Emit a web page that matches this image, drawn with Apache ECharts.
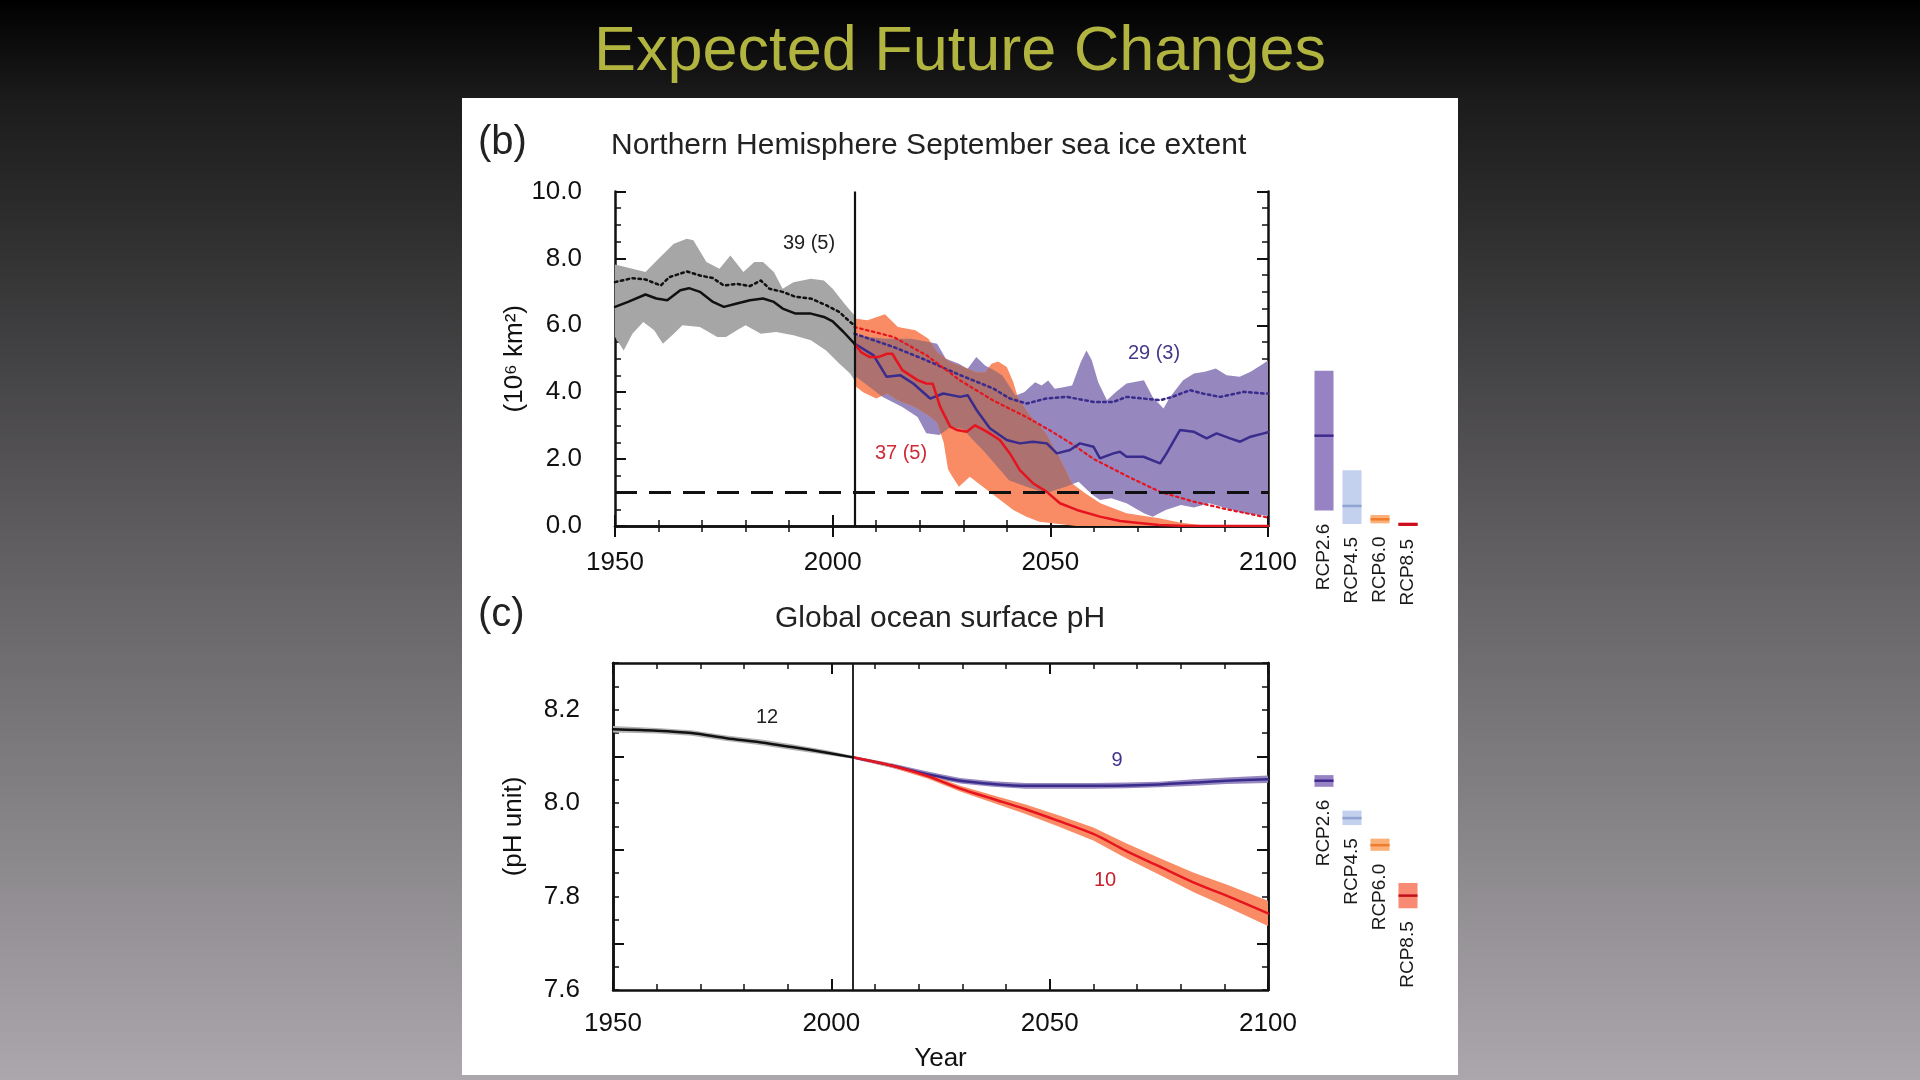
<!DOCTYPE html>
<html>
<head>
<meta charset="utf-8">
<script src="https://cdn.jsdelivr.net/npm/echarts@6.0.0/dist/echarts.min.js"></script>
<style>
html,body{margin:0;padding:0;width:1920px;height:1080px;overflow:hidden;background:#000;}
#chart{width:1920px;height:1080px;}
</style>
</head>
<body>
<div id="chart"></div>
<script>
// ---------------- DATA ----------------
const histEndYear = 2005;
const iceFreeLevel = 1.0;
const xTickLabels = [1950, 2000, 2050, 2100];
const phTickLabels = [7.6, 7.8, 8.0, 8.2];
const phLongTicks = [7.7, 7.9, 8.1];

// Panel (b): NH September sea ice extent (10^6 km^2)
const iceHistMean = [[1950,6.55],[1953,6.70],[1957,6.92],[1959.5,6.80],[1962,6.75],[1965,7.05],[1967,7.11],[1969.5,7.0],[1972.5,6.70],[1975,6.55],[1978,6.65],[1981,6.75],[1984,6.80],[1986.5,6.70],[1988.5,6.50],[1991.5,6.35],[1995,6.35],[1998,6.25],[2000,6.12],[2002.5,5.80],[2005,5.45]];
const iceHistSubset = [[1950,7.29],[1954,7.41],[1957,7.37],[1960.5,7.19],[1962.5,7.44],[1966.5,7.61],[1969.5,7.49],[1972.5,7.41],[1975,7.19],[1978,7.24],[1981,7.17],[1983.5,7.34],[1985.5,7.09],[1988.5,7.0],[1991.5,6.85],[1995,6.80],[1998.5,6.60],[2001.5,6.40],[2004,6.10],[2005,6.0]];
const iceHistUpper = [[1950,7.82],[1954,7.69],[1957,7.59],[1960,7.99],[1963.5,8.44],[1966.5,8.59],[1968,8.54],[1971,7.89],[1974,7.69],[1976.5,8.09],[1979.5,7.59],[1982,7.89],[1984,7.89],[1986.5,7.59],[1988.5,7.09],[1991,7.29],[1995,7.39],[1998,7.34],[2000,7.09],[2003,6.60],[2005,6.30]];
const iceHistLower = [[1950,5.65],[1952,5.25],[1954,5.75],[1956.5,6.10],[1959,5.85],[1961,5.45],[1963.5,5.75],[1965.5,6.0],[1969.5,5.95],[1973.5,5.65],[1975.5,5.65],[1978,5.85],[1980,6.0],[1983.5,5.75],[1987,5.80],[1991,5.70],[1995,5.55],[1998.5,5.25],[2001.5,4.86],[2004,4.56],[2005,4.36]];

const ice26Upper = [[2005,5.7],[2012,5.6],[2018,5.6],[2022,5.5],[2024,5.45],[2026,5.0],[2029,4.85],[2031,4.7],[2033,5.05],[2035,4.8],[2037,4.66],[2039,4.5],[2042,3.9],[2044,4.0],[2046.5,4.3],[2048,4.2],[2049.5,4.35],[2051,4.1],[2053,4.15],[2055,4.2],[2057,4.9],[2058.3,5.25],[2059.5,4.96],[2061,4.3],[2063,3.76],[2065,4.0],[2067.5,4.26],[2071.5,4.36],[2073.5,3.86],[2076,3.51],[2077.5,3.86],[2080.5,4.36],[2083,4.56],[2085.5,4.61],[2088,4.71],[2090.5,4.51],[2093.5,4.46],[2096,4.61],[2099,4.86],[2100,4.95]];
const ice26Lower = [[2005,4.5],[2009,4.1],[2011.5,3.86],[2016,3.56],[2019.5,3.26],[2021.5,2.77],[2024.5,2.72],[2027,2.95],[2030,2.9],[2032,2.6],[2034.5,2.27],[2037,1.9],[2040.5,1.37],[2044.5,1.17],[2049,0.98],[2053.5,1.17],[2056.5,1.32],[2059.5,0.95],[2061.4,0.78],[2064,0.83],[2067.5,0.68],[2071.5,0.38],[2073.5,0.28],[2076.5,0.48],[2080,0.63],[2083,0.55],[2086.5,0.68],[2090.5,0.53],[2094.5,0.38],[2098,0.33],[2100,0.3]];
const ice85Upper = [[2005,6.2],[2008,6.15],[2012,6.33],[2015,5.95],[2019,5.85],[2022,5.6],[2024,5.2],[2027,4.9],[2030,4.75],[2033,4.6],[2035,4.6],[2036.5,4.85],[2038,4.92],[2040,4.75],[2041.5,4.3],[2042.5,3.86],[2045,3.36],[2049,2.77],[2052,2.07],[2055,1.27],[2058,0.98],[2061.5,0.68],[2067.5,0.38],[2075,0.23],[2080,0.1],[2085,0.02],[2100,0]];
const ice85Lower = [[2005,4.2],[2007,4.0],[2010,3.81],[2012.5,3.96],[2015,3.75],[2019,3.55],[2022,3.3],[2024,3.1],[2025.5,2.5],[2026.5,1.7],[2027.5,1.47],[2029,1.17],[2031.5,1.47],[2034.5,1.17],[2038.5,0.78],[2041.5,0.48],[2044.5,0.28],[2047.5,0.13],[2052,0.06],[2056,0],[2100,0]];

const ice26Mean = [[2005,5.45],[2006.3,5.35],[2009.4,5.1],[2012.4,4.46],[2015.5,4.51],[2018.5,4.26],[2022.4,3.81],[2025.4,3.96],[2029.3,3.86],[2031,3.91],[2033.1,3.46],[2036.1,2.92],[2040,2.57],[2043,2.47],[2046,2.52],[2049.2,2.47],[2051.5,2.17],[2054.5,2.27],[2056.8,2.47],[2059.9,2.37],[2061.4,2.02],[2064.5,2.17],[2066,2.22],[2067.5,2.07],[2071.4,2.07],[2075.2,1.87],[2076.7,2.17],[2079.8,2.87],[2082.9,2.82],[2085.9,2.62],[2088.2,2.77],[2091.3,2.62],[2093.6,2.52],[2096,2.67],[2099,2.77],[2100,2.8]];
const ice26Subset = [[2005,5.75],[2014,5.35],[2021.6,4.95],[2029.3,4.51],[2036.9,4.11],[2040.7,3.81],[2044.6,3.66],[2049,3.81],[2053.8,3.86],[2059.9,3.71],[2064.5,3.71],[2067.5,3.86],[2071.4,3.81],[2075.2,3.76],[2078,3.86],[2082.1,4.06],[2085,3.96],[2089,3.86],[2094.4,4.01],[2099,3.96],[2100,3.96]];
const ice85Mean = [[2005,5.45],[2006.5,5.2],[2008.5,5.05],[2010.5,5.05],[2012.5,5.15],[2013.7,5.15],[2016,4.66],[2019.5,4.36],[2021.5,4.26],[2023,4.25],[2024.7,3.56],[2027,2.97],[2028.5,2.87],[2030.8,2.82],[2032.7,3.01],[2035.4,2.82],[2038.4,2.57],[2040.7,2.17],[2043,1.67],[2046.1,1.27],[2049.2,1.02],[2052.2,0.68],[2056.1,0.48],[2061.4,0.28],[2066,0.15],[2069.8,0.1],[2075,0.03],[2080,0.01],[2100,0]];
const ice85Subset = [[2005,5.95],[2014,5.65],[2021.6,5.1],[2029.3,4.35],[2036.9,3.75],[2044.6,3.25],[2050,2.85],[2055,2.45],[2060,2.0],[2067.5,1.5],[2075.2,1.02],[2082.9,0.73],[2090.5,0.5],[2100,0.25]];

// Panel (c): global ocean surface pH
const phHistMean = [[1950,8.158],[1960,8.155],[1968,8.150],[1976,8.139],[1984,8.130],[1991,8.120],[1999,8.108],[2005,8.098]];
const phHistBand = [[1950,8.151,8.165],[1960,8.149,8.161],[1968,8.144,8.156],[1976,8.133,8.145],[1984,8.124,8.136],[1991,8.114,8.126],[1999,8.103,8.113],[2005,8.095,8.101]];
const ph85Mean = [[2005,8.098],[2014,8.080],[2022,8.058],[2029.5,8.031],[2037,8.009],[2044.5,7.987],[2052,7.962],[2060,7.934],[2067.5,7.898],[2075,7.865],[2083,7.830],[2090.5,7.802],[2100,7.764]];
const ph85Band = [[2005,8.095,8.101],[2014,8.076,8.084],[2022,8.053,8.063],[2029.5,8.025,8.037],[2037,8.001,8.017],[2044.5,7.977,7.997],[2052,7.950,7.974],[2060,7.920,7.948],[2067.5,7.882,7.914],[2075,7.847,7.883],[2083,7.809,7.851],[2090.5,7.778,7.826],[2100,7.737,7.791]];
const ph26Mean = [[2005,8.098],[2014,8.080],[2020,8.066],[2024,8.058],[2029.5,8.048],[2037,8.041],[2044.5,8.037],[2052,8.037],[2060,8.037],[2067.5,8.038],[2075,8.040],[2083,8.044],[2090.5,8.048],[2100,8.051]];
const ph26Band = [[2005,8.095,8.101],[2014,8.075,8.085],[2020,8.060,8.072],[2024,8.052,8.064],[2029.5,8.042,8.054],[2037,8.035,8.047],[2044.5,8.031,8.043],[2052,8.031,8.043],[2060,8.031,8.043],[2067.5,8.032,8.044],[2075,8.034,8.046],[2083,8.037,8.051],[2090.5,8.041,8.055],[2100,8.043,8.059]];

// Side bars: 2081-2100 ranges per scenario
const rcpNames = ['RCP2.6', 'RCP4.5', 'RCP6.0', 'RCP8.5'];
const iceSideLow  = [0.46, 0.06, 0.08, 0.0];
const iceSideHigh = [4.64, 1.67, 0.33, 0.1];
const iceSideMid  = [2.7, 0.6, 0.2, 0.05];
const phSideLow  = [8.035, 7.953, 7.898, 7.775];
const phSideHigh = [8.060, 7.984, 7.924, 7.829];
const phSideMid  = [8.048, 7.968, 7.910, 7.802];

// ---------------- STYLE ----------------
const FONT = '"Liberation Sans", Arial, Helvetica, sans-serif';
const C_PURPLE_BAND = '#9687be';
const C_SALMON_BAND = '#f98c64';
const C_OVERLAP = '#ad7170';
const C_GRAY_BAND = '#a6a6a6';
const C_PURPLE_LINE = '#3a2c8c';
const C_RED_LINE = '#e5141f';
const C_BLACK = '#111111';
const sideBoxTop = ['#9783c3', '#c3d0ee', '#fab078', '#e8141f'];
const sideBoxPh = ['#9783c3', '#c3d0ee', '#fab078', '#f98a74'];
const sideLine = ['#3f2a8c', '#8fa3d4', '#ef7d2c', '#c40f1c'];

function toPts(api, arr) { return arr.map(p => api.coord([p[0], p[1]])); }
function bandFromEdges(name, upper, lower, color, xi, yi, z, clipUpper, clipLower) {
  return {
    type: 'custom', name: name, xAxisIndex: xi, yAxisIndex: yi, z: z, silent: true, clip: true,
    animation: false,
    data: [[upper[0][0], upper[0][1]]],
    renderItem: function (params, api) {
      const pts = toPts(api, upper).concat(toPts(api, lower.slice().reverse()));
      const el = { type: 'polygon', shape: { points: pts }, style: { fill: color } };
      if (clipUpper) {
        const cp = toPts(api, clipUpper).concat(toPts(api, clipLower.slice().reverse()));
        el.clipPath = { type: 'polygon', shape: { points: cp } };
      }
      return el;
    }
  };
}
function bandFromTriples(name, triples, color, xi, yi, z) {
  const up = triples.map(t => [t[0], t[2]]);
  const lo = triples.map(t => [t[0], t[1]]);
  return bandFromEdges(name, up, lo, color, xi, yi, z);
}
function lineSeries(name, data, color, width, dotted, xi, yi, z, extra) {
  const s = {
    type: 'line', name: name, data: data, xAxisIndex: xi, yAxisIndex: yi, z: z,
    showSymbol: false, symbol: 'none', silent: true, animation: false, clip: true,
    lineStyle: { color: color, width: width, type: dotted ? [2.5, 3.5] : 'solid', cap: 'round' }
  };
  return Object.assign(s, extra || {});
}
function sideSeries(name, low, high, mid, boxColors, xi, yi) {
  return {
    type: 'custom', name: name, xAxisIndex: xi, yAxisIndex: yi, clip: false, silent: true, animation: false, z: 3,
    data: rcpNames.map((n, i) => [i, low[i], high[i], mid[i]]),
    renderItem: function (params, api) {
      const i = api.value(0);
      const pTop = api.coord([i + 0.5, api.value(2)]);
      const pBot = api.coord([i + 0.5, api.value(1)]);
      const pMid = api.coord([i + 0.5, api.value(3)]);
      const w = api.size([0.68, 0])[0];
      const h = Math.max(pBot[1] - pTop[1], 3);
      return {
        type: 'group',
        children: [
          { type: 'rect', shape: { x: pTop[0] - w / 2, y: pBot[1] - h, width: w, height: h }, style: { fill: boxColors[i] } },
          { type: 'line', shape: { x1: pTop[0] - w / 2, y1: pMid[1], x2: pTop[0] + w / 2, y2: pMid[1] }, style: { stroke: sideLine[i], lineWidth: 2.5 } },
          { type: 'text', x: pTop[0], y: pBot[1] + 13, rotation: Math.PI / 2,
            style: { text: rcpNames[i], fontSize: 19, fontFamily: FONT, fill: '#1a1a1a', align: 'right', verticalAlign: 'middle' } }
        ]
      };
    }
  };
}

const axisLineStyle = { show: true, lineStyle: { color: C_BLACK, width: 2.5 } };
const labelStyle = { fontFamily: FONT, fontSize: 26, color: C_BLACK };

function xAxes(gridIndex, margin, withName) {
  const base = {
    type: 'value', gridIndex: gridIndex, min: 1950, max: 2100, interval: 50,
    axisLine: axisLineStyle, splitLine: { show: false },
    axisTick: { show: true, inside: true, length: 11, lineStyle: { color: C_BLACK, width: 2 } },
    minorTick: { show: true, splitNumber: 5, length: 6, lineStyle: { color: C_BLACK, width: 1.5 } }
  };
  const bottom = Object.assign({}, base, {
    position: 'bottom',
    axisLabel: Object.assign({ show: true, margin: margin, customValues: xTickLabels, formatter: v => String(Math.round(v)) }, labelStyle)
  });
  if (withName) {
    Object.assign(bottom, { name: 'Year', nameLocation: 'middle', nameGap: 56,
      nameTextStyle: { fontFamily: FONT, fontSize: 26, color: C_BLACK } });
  }
  const top = Object.assign({}, base, { position: 'top', axisLabel: { show: false } });
  return [bottom, top];
}

const option = {
  backgroundColor: new echarts.graphic.LinearGradient(0, 0, 0, 1, [
    { offset: 0, color: '#000000' },
    { offset: 0.09, color: '#1b1b1b' },
    { offset: 0.5, color: '#5f5d60' },
    { offset: 1, color: '#aba7ac' }
  ]),
  animation: false,
  grid: [
    { left: 615, top: 191.5, width: 653, height: 334.5 },
    { left: 613, top: 663, width: 655, height: 327 },
    { left: 1310, top: 191.5, width: 112, height: 334.5 },
    { left: 1310, top: 663, width: 112, height: 327 }
  ],
  xAxis: [].concat(
    xAxes(0, 24, false),
    xAxes(1, 21, true),
    [
      { type: 'value', gridIndex: 2, min: 0, max: 4, show: false },
      { type: 'value', gridIndex: 3, min: 0, max: 4, show: false }
    ]
  ),
  yAxis: [
    // top panel left (labels)
    { type: 'value', gridIndex: 0, position: 'left', min: 0, max: 10, interval: 2,
      name: '(10\u2076 km\u00b2)', nameLocation: 'middle', nameGap: 86,
      nameTextStyle: { fontFamily: FONT, fontSize: 26, color: C_BLACK },
      axisLine: axisLineStyle, splitLine: { show: false },
      axisTick: { show: true, inside: true, length: 11, lineStyle: { color: C_BLACK, width: 2 } },
      minorTick: { show: true, splitNumber: 4, length: 6, lineStyle: { color: C_BLACK, width: 1.5 } },
      axisLabel: Object.assign({ margin: 33, formatter: v => v.toFixed(1) }, labelStyle) },
    // top panel right (mirror)
    { type: 'value', gridIndex: 0, position: 'right', min: 0, max: 10, interval: 2,
      axisLine: axisLineStyle, splitLine: { show: false },
      axisTick: { show: true, inside: true, length: 11, lineStyle: { color: C_BLACK, width: 2 } },
      minorTick: { show: true, splitNumber: 4, length: 6, lineStyle: { color: C_BLACK, width: 1.5 } },
      axisLabel: { show: false } },
    // bottom panel left: fine ticks
    { type: 'value', gridIndex: 1, position: 'left', min: 7.6, max: 8.3, interval: 0.05,
      axisLine: axisLineStyle, splitLine: { show: false },
      axisTick: { show: true, inside: true, length: 6, lineStyle: { color: C_BLACK, width: 1.5 } },
      axisLabel: { show: false } },
    // bottom panel left: labels + long ticks
    { type: 'value', gridIndex: 1, position: 'left', min: 7.6, max: 8.3, interval: 0.1,
      name: '(pH unit)', nameLocation: 'middle', nameGap: 86,
      nameTextStyle: { fontFamily: FONT, fontSize: 26, color: C_BLACK },
      axisLine: axisLineStyle, splitLine: { show: false },
      axisTick: { show: true, inside: true, length: 11, customValues: phLongTicks, lineStyle: { color: C_BLACK, width: 2 } },
      axisLabel: Object.assign({ margin: 33, customValues: phTickLabels, formatter: v => v.toFixed(1) }, labelStyle) },
    // bottom panel right: fine ticks
    { type: 'value', gridIndex: 1, position: 'right', min: 7.6, max: 8.3, interval: 0.05,
      axisLine: axisLineStyle, splitLine: { show: false },
      axisTick: { show: true, inside: true, length: 6, lineStyle: { color: C_BLACK, width: 1.5 } },
      axisLabel: { show: false } },
    // bottom panel right: long ticks
    { type: 'value', gridIndex: 1, position: 'right', min: 7.6, max: 8.3, interval: 0.1,
      axisLine: axisLineStyle, splitLine: { show: false },
      axisTick: { show: true, inside: true, length: 11, customValues: phLongTicks, lineStyle: { color: C_BLACK, width: 2 } },
      axisLabel: { show: false } },
    { type: 'value', gridIndex: 2, min: 0, max: 10, show: false },
    { type: 'value', gridIndex: 3, min: 7.6, max: 8.3, show: false }
  ],
  graphic: [
    { type: 'rect', z: -10, shape: { x: 462, y: 98, width: 996, height: 977 }, style: { fill: '#ffffff' } },
    { type: 'text', x: 960, y: 53, style: { text: 'Expected Future Changes', fontSize: 63, fontFamily: FONT, fill: '#b2b440', align: 'center', verticalAlign: 'middle', textAlign: 'center', textVerticalAlign: 'middle' } },
    { type: 'text', x: 478, y: 143, style: { text: '(b)', fontSize: 40, fontFamily: FONT, fill: '#222', align: 'left', verticalAlign: 'middle', textAlign: 'left', textVerticalAlign: 'middle' } },
    { type: 'text', x: 611, y: 145.5, style: { text: 'Northern Hemisphere September sea ice extent', fontSize: 30, fontFamily: FONT, fill: '#222', align: 'left', verticalAlign: 'middle', textAlign: 'left', textVerticalAlign: 'middle' } },
    { type: 'text', x: 478, y: 615, style: { text: '(c)', fontSize: 40, fontFamily: FONT, fill: '#222', align: 'left', verticalAlign: 'middle', textAlign: 'left', textVerticalAlign: 'middle' } },
    { type: 'text', x: 775, y: 619, style: { text: 'Global ocean surface pH', fontSize: 30, fontFamily: FONT, fill: '#222', align: 'left', verticalAlign: 'middle', textAlign: 'left', textVerticalAlign: 'middle' } },
    { type: 'text', x: 809, y: 243, z: 10, style: { text: '39 (5)', fontSize: 20, fontFamily: FONT, fill: '#222', align: 'center', verticalAlign: 'middle', textAlign: 'center', textVerticalAlign: 'middle' } },
    { type: 'text', x: 1154, y: 353, z: 10, style: { text: '29 (3)', fontSize: 20, fontFamily: FONT, fill: '#46398a', align: 'center', verticalAlign: 'middle', textAlign: 'center', textVerticalAlign: 'middle' } },
    { type: 'text', x: 901, y: 453, z: 10, style: { text: '37 (5)', fontSize: 20, fontFamily: FONT, fill: '#d02a36', align: 'center', verticalAlign: 'middle', textAlign: 'center', textVerticalAlign: 'middle' } },
    { type: 'text', x: 767, y: 717, z: 10, style: { text: '12', fontSize: 20, fontFamily: FONT, fill: '#222', align: 'center', verticalAlign: 'middle', textAlign: 'center', textVerticalAlign: 'middle' } },
    { type: 'text', x: 1117, y: 760, z: 10, style: { text: '9', fontSize: 20, fontFamily: FONT, fill: '#3f3590', align: 'center', verticalAlign: 'middle', textAlign: 'center', textVerticalAlign: 'middle' } },
    { type: 'text', x: 1105, y: 880, z: 10, style: { text: '10', fontSize: 20, fontFamily: FONT, fill: '#c8202c', align: 'center', verticalAlign: 'middle', textAlign: 'center', textVerticalAlign: 'middle' } }
  ],
  series: [
    // ---- panel (b) bands
    bandFromEdges('hist band', iceHistUpper, iceHistLower, C_GRAY_BAND, 0, 0, 1),
    bandFromEdges('RCP2.6 band', ice26Upper, ice26Lower, C_PURPLE_BAND, 0, 0, 1),
    bandFromEdges('RCP8.5 band', ice85Upper, ice85Lower, C_SALMON_BAND, 0, 0, 1),
    bandFromEdges('overlap', ice85Upper, ice85Lower, C_OVERLAP, 0, 0, 1, ice26Upper, ice26Lower),
    // ---- panel (b) lines
    lineSeries('hist subset', iceHistSubset, C_BLACK, 2.5, true, 0, 0, 3),
    lineSeries('RCP2.6 subset', ice26Subset, C_PURPLE_LINE, 2.5, true, 0, 0, 3),
    lineSeries('RCP8.5 subset', ice85Subset, C_RED_LINE, 2.2, true, 0, 0, 3),
    lineSeries('RCP2.6 mean', ice26Mean, C_PURPLE_LINE, 2.5, false, 0, 0, 4),
    lineSeries('RCP8.5 mean', ice85Mean, C_RED_LINE, 2.5, false, 0, 0, 4),
    lineSeries('hist mean', iceHistMean, C_BLACK, 2.5, false, 0, 0, 5, {
      markLine: {
        silent: true, symbol: ['none', 'none'], label: { show: false }, animation: false,
        data: [
          { xAxis: histEndYear, lineStyle: { color: C_BLACK, width: 2.2, type: 'solid' } },
          { yAxis: iceFreeLevel, lineStyle: { color: C_BLACK, width: 3, type: [22, 12] } }
        ]
      }
    }),
    // ---- panel (c)
    bandFromTriples('pH hist band', phHistBand, '#b3b3b3', 2, 3, 1),
    bandFromTriples('pH RCP2.6 band', ph26Band, C_PURPLE_BAND, 2, 3, 1),
    bandFromTriples('pH RCP8.5 band', ph85Band, C_SALMON_BAND, 2, 3, 1),
    lineSeries('pH RCP2.6', ph26Mean, C_PURPLE_LINE, 2.5, false, 2, 3, 3, { smooth: 0.3 }),
    lineSeries('pH RCP8.5', ph85Mean, C_RED_LINE, 2.5, false, 2, 3, 4, { smooth: 0.3 }),
    lineSeries('pH hist', phHistMean, C_BLACK, 2.5, false, 2, 3, 5, {
      smooth: 0.3,
      markLine: {
        silent: true, symbol: ['none', 'none'], label: { show: false }, animation: false,
        data: [{ xAxis: histEndYear, lineStyle: { color: C_BLACK, width: 1.8, type: 'solid' } }]
      }
    }),
    // ---- side bars
    sideSeries('ice side', iceSideLow, iceSideHigh, iceSideMid, sideBoxTop, 4, 6),
    sideSeries('pH side', phSideLow, phSideHigh, phSideMid, sideBoxPh, 5, 7)
  ]
};

const chart = echarts.init(document.getElementById('chart'), null, { renderer: 'canvas', width: 1920, height: 1080 });
chart.setOption(option);
</script>
</body>
</html>
